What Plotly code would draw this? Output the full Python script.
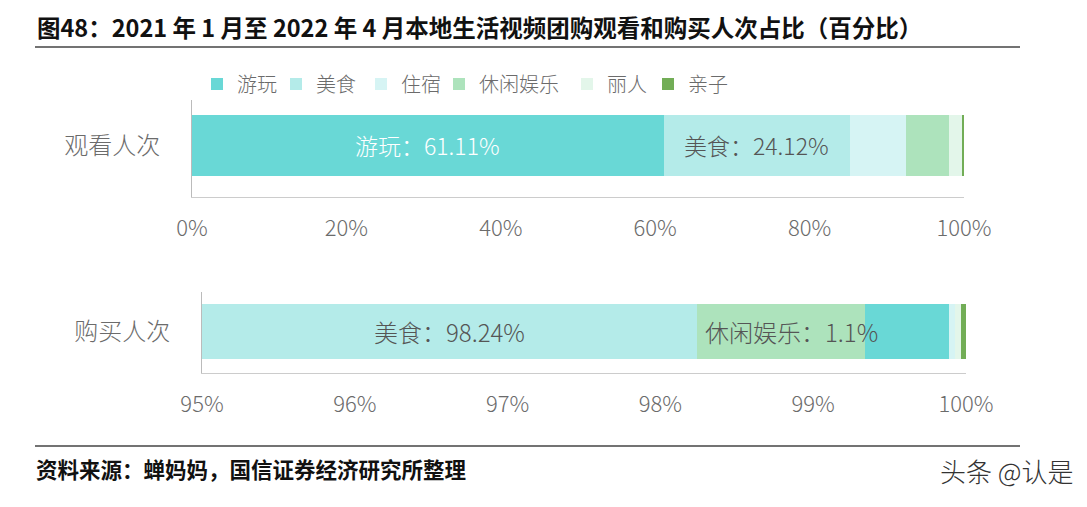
import plotly.graph_objects as go

W, H = 1087, 507

categories = ["游玩", "美食", "住宿", "休闲娱乐", "丽人", "亲子"]
colors = {"游玩": "#69d8d6", "美食": "#b4ebe9", "住宿": "#d6f4f4",
          "休闲娱乐": "#ade3bc", "丽人": "#e3f6ea", "亲子": "#72ad56"}

# 观看人次 (share %, stacking order as in chart)
watch_order = ["游玩", "美食", "住宿", "休闲娱乐", "丽人", "亲子"]
watch_values = [61.11, 24.12, 7.2, 5.6, 1.7, 0.27]

# 购买人次 (share %, stacking order as in chart)
buy_order = ["美食", "休闲娱乐", "游玩", "住宿", "丽人", "亲子"]
buy_values = [98.24, 1.1, 0.55, 0.04, 0.04, 0.03]

watch_ticks = [0, 20, 40, 60, 80, 100]
buy_ticks = [95, 96, 97, 98, 99, 100]
buy_min = 95

title = "图48：2021 年 1 月至 2022 年 4 月本地生活视频团购观看和购买人次占比（百分比）"
source = "资料来源：蝉妈妈，国信证券经济研究所整理"

CJK = "Noto Sans CJK SC"
GRAY = "#6b6b6b"

# legend entry text start positions (px)
legend_text_x = [233, 312, 397, 475, 603, 684]

def px(x):
    return x / W

def py(y):
    return 1 - y / H

fig = go.Figure()

legend_ids = ["legend"] + [f"legend{i}" for i in range(2, len(categories) + 1)]

for name, v in zip(watch_order, watch_values):
    fig.add_trace(go.Bar(
        x=[v], y=[0], orientation="h", name=name,
        marker=dict(color=colors[name], line=dict(width=0)),
        width=0.63, xaxis="x", yaxis="y", showlegend=True,
        legend=legend_ids[categories.index(name)], hoverinfo="skip"))

for name, v in zip(buy_order, buy_values):
    fig.add_trace(go.Bar(
        x=[v], y=[0], orientation="h", name=name,
        marker=dict(color=colors[name], line=dict(width=0)),
        width=0.68, xaxis="x2", yaxis="y2", showlegend=False, hoverinfo="skip"))

annotations = []
# labels for top bar
cum = 0
for name, v in zip(watch_order, watch_values):
    if name in ("游玩", "美食"):
        annotations.append(dict(
            x=cum + v / 2, y=0, xref="x", yref="y", text=f"{name}：{v:.2f}%",
            showarrow=False,
            font=dict(family=CJK, size=23, color="white" if name == "游玩" else "#555555", weight=300)))
    cum += v
# labels for bottom bar
cum = 0
for name, v in zip(buy_order, buy_values):
    lo = max(cum, buy_min)
    hi = cum + v
    if name == "美食":
        annotations.append(dict(
            x=(lo + hi) / 2, y=0, xref="x2", yref="y2", text=f"{name}：{v:.2f}%",
            showarrow=False, font=dict(family=CJK, size=24, color="#555555", weight=300)))
    elif name == "休闲娱乐":
        annotations.append(dict(
            x=lo, y=0, xref="x2", yref="y2", text=f"{name}：{v:g}%", xanchor="left",
            xshift=6, showarrow=False,
            font=dict(family=CJK, size=24, color="#555555", weight=300)))
    cum = hi

annotations.append(dict(x=px(35), y=py(27), xref="paper", yref="paper", xanchor="left",
                        yanchor="middle", text=f"<b>{title}</b>", showarrow=False,
                        font=dict(family=CJK, size=23.5, color="#111111")))
annotations.append(dict(x=px(34), y=py(468), xref="paper", yref="paper", xanchor="left",
                        yanchor="middle", text=f"<b>{source}</b>", showarrow=False,
                        font=dict(family=CJK, size=21.5, color="#111111")))
annotations.append(dict(x=px(1075), y=py(470), xref="paper", yref="paper", xanchor="right",
                        yanchor="middle", text="头条 @认是", showarrow=False,
                        font=dict(family=CJK, size=26, color="#333333", weight=300)))

shapes = [
    dict(type="line", xref="paper", yref="paper", x0=px(35), x1=px(1020), y0=py(47), y1=py(47),
         line=dict(color="#444444", width=1.5)),
    dict(type="line", xref="paper", yref="paper", x0=px(35), x1=px(1020), y0=py(446), y1=py(446),
         line=dict(color="#444444", width=1.5)),
]

axis_font = dict(family=CJK, size=22, color=GRAY, weight=300)
cat_font = dict(family=CJK, size=24, color=GRAY, weight=300)

legends = {}
for i, lid in enumerate(legend_ids):
    legends[lid] = dict(orientation="h", x=px(legend_text_x[i] - 36), y=py(84),
                        xanchor="left", yanchor="middle",
                        font=dict(family=CJK, size=20, color=GRAY, weight=300),
                        itemwidth=30, bgcolor="rgba(0,0,0,0)", borderwidth=0)

fig.update_layout(
    width=W, height=H, margin=dict(l=0, r=0, t=0, b=0, autoexpand=False),
    paper_bgcolor="white", plot_bgcolor="white", barmode="stack", bargap=0,
    showlegend=True,
    xaxis=dict(domain=[px(192), px(964)], range=[0, 100], tickvals=watch_ticks,
               ticktext=[f"{t}%" for t in watch_ticks], showgrid=False, zeroline=False,
               showline=True, automargin=False,
               linecolor="#cccccc", linewidth=1, ticks="", tickfont=axis_font,
               ticklabelstandoff=12, anchor="y", fixedrange=True),
    yaxis=dict(domain=[py(197), py(100)], range=[-0.531, 0.469], tickvals=[0],
               ticktext=["观看人次"], showgrid=False, zeroline=False, showline=True,
               linecolor="#bbbbbb", linewidth=1, ticks="", automargin=False,
               tickfont=cat_font, ticklabelstandoff=26, anchor="x", fixedrange=True),
    xaxis2=dict(domain=[px(202), px(966)], range=[95, 100], tickvals=buy_ticks,
                ticktext=[f"{t}%" for t in buy_ticks], showgrid=False, zeroline=False,
                showline=True, automargin=False,
                linecolor="#cccccc", linewidth=1, ticks="", tickfont=axis_font,
                ticklabelstandoff=12, anchor="y2", fixedrange=True),
    yaxis2=dict(domain=[py(373), py(292)], range=[-0.512, 0.488], tickvals=[0],
                ticktext=["购买人次"], showgrid=False, zeroline=False, showline=True,
                linecolor="#bbbbbb", linewidth=1, ticks="", automargin=False,
                tickfont=cat_font, ticklabelstandoff=26, anchor="x2", fixedrange=True),
    annotations=annotations, shapes=shapes,
    **legends,
)

fig.write_html("out.html", config={"displayModeBar": False},
               post_script="document.body.style.margin='0';")
